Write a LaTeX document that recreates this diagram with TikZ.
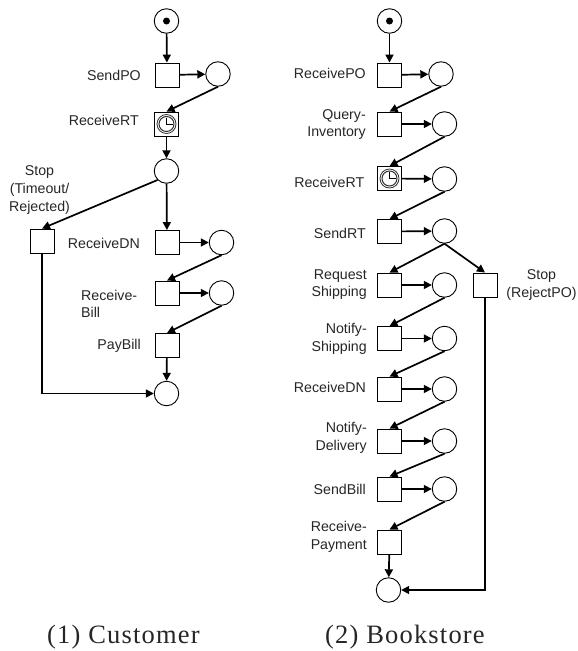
\documentclass[tikz,border=0pt]{standalone}
\usepackage{fontspec}
\setmainfont{Liberation Sans}
\newfontfamily\capfont[LetterSpace=4.5]{Liberation Serif}
\usetikzlibrary{arrows.meta}
\tikzset{
 place/.style={draw,circle,minimum size=24.5pt,inner sep=0pt,line width=0.9pt,fill=white},
 trans/.style={draw,rectangle,minimum size=24pt,inner sep=0pt,line width=0.9pt,fill=white},
 arc/.style={-{Triangle[length=8pt,width=8pt]},line width=1.7pt,draw=black},
 lbl/.style={font=\fontsize{14.2}{17.6}\selectfont,inner sep=0pt,text=black!85,align=right,anchor=east},
 lbll/.style={lbl,align=left,anchor=west},
 lblc/.style={lbl,align=center,anchor=center},
 captext/.style={font=\capfont\fontsize{26.5}{30}\selectfont,inner sep=0pt,text=black!85},
 token/.style={fill=black,circle,minimum size=7pt,inner sep=0pt},
}
\newcommand{\clockat}[1]{%
 \draw[line width=0.8pt,black!80] (#1) circle (9.5pt);
 \draw[line width=1pt,black!80] (#1) circle (7.5pt);
 \draw[line width=0.8pt,black] ([yshift=6.5pt]#1) -- (#1) -- ([xshift=6.5pt]#1);
}
\begin{document}
\begin{tikzpicture}[x=1pt,y=-1pt]
\useasboundingbox (0,0) rectangle (578,651);
% Customer
\node[place] (cs) at (166.5,21) {};
\node[token] (cst) at (166.5,21) {};
\node[trans] (c1) at (167,75) {};
\node[place] (c1p) at (218,74) {};
\node[trans] (c2) at (166.5,124) {};
\clockat{c2.center}
\node[place] (c2p) at (166.5,171) {};
\node[trans] (cstop) at (42,241) {};
\node[trans] (c3) at (167,242.5) {};
\node[place] (c3p) at (221.5,242.5) {};
\node[trans] (c4) at (167,293) {};
\node[place] (c4p) at (221.5,293) {};
\node[trans] (c5) at (167,345.5) {};
\node[place] (ce) at (166.5,393.5) {};
\draw[arc] (cs) -- (c1);
\draw[arc] (c1) -- (c1p);
\draw[arc] (c1p.south) -- (c2.north);
\draw[arc] (c2) -- (c2p);
\draw[arc] (c2p) -- (c3);
\draw[arc] (c2p.south west) -- (cstop.north);
\draw[arc] (c3) -- (c3p);
\draw[arc] (c3p.south) -- (c4.north);
\draw[arc] (c4) -- (c4p);
\draw[arc] (c4p.south) -- (c5.north);
\draw[arc] (c5) -- (ce);
\draw[arc] (cstop.south) |- (ce.west);
\node[lbl] (lc1) at (141,75) {SendPO};
\node[lbl] (lc2) at (139,120) {ReceiveRT};
\node[lblc] (lcs) at (39.5,190) {Stop\\(Timeout/\\Rejected)};
\node[lbl] (lc3) at (140,243) {ReceiveDN};
\node[lbll] (lc4) at (81,304) {Receive-\\Bill};
\node[lbl] (lc5) at (141,346) {PayBill};
% Bookstore
\node[place] (bs) at (389.5,21) {};
\node[token] (bst) at (389.5,21) {};
\node[trans] (b1) at (389.5,75) {};
\node[place] (b1p) at (441,74) {};
\node[trans] (b2) at (389.5,124) {};
\node[place] (b2p) at (444.5,124) {};
\node[trans] (b3) at (389.5,178.5) {};
\clockat{b3.center}
\node[place] (b3p) at (444.5,179) {};
\node[trans] (b4) at (389.5,231.5) {};
\node[place] (b4p) at (444.5,231) {};
\node[trans] (b5) at (389.5,285) {};
\node[place] (b5p) at (444.5,285) {};
\node[trans] (bstop) at (485,285) {};
\node[trans] (b6) at (389.5,338.5) {};
\node[place] (b6p) at (444.5,338.5) {};
\node[trans] (b7) at (389.5,389) {};
\node[place] (b7p) at (444.5,389) {};
\node[trans] (b8) at (389.5,441) {};
\node[place] (b8p) at (444.5,441) {};
\node[trans] (b9) at (389.5,489) {};
\node[place] (b9p) at (444.5,489) {};
\node[trans] (b10) at (389.5,542) {};
\node[place] (be) at (388.5,590) {};
\draw[arc] (bs) -- (b1);
\draw[arc] (b1) -- (b1p);
\draw[arc] (b1p.south) -- (b2.north);
\draw[arc] (b2) -- (b2p);
\draw[arc] (b2p.south) -- (b3.north);
\draw[arc] (b3) -- (b3p);
\draw[arc] (b3p.south) -- (b4.north);
\draw[arc] (b4) -- (b4p);
\draw[arc] (b4p.south) -- (b5.north);
\draw[arc] (b4p.south) -- (bstop.north);
\draw[arc] (b5) -- (b5p);
\draw[arc] (b5p.south) -- (b6.north);
\draw[arc] (b6) -- (b6p);
\draw[arc] (b6p.south) -- (b7.north);
\draw[arc] (b7) -- (b7p);
\draw[arc] (b7p.south) -- (b8.north);
\draw[arc] (b8) -- (b8p);
\draw[arc] (b8p.south) -- (b9.north);
\draw[arc] (b9) -- (b9p);
\draw[arc] (b9p.south) -- (b10.north);
\draw[arc] (b10) -- (be);
\draw[arc] (bstop.south) |- (be.east);
\node[lbl] (lb1) at (366,73) {ReceivePO};
\node[lbl] (lb2) at (366,124.5) {Query-\\Inventory};
\node[lbl] (lb3) at (364.5,182) {ReceiveRT};
\node[lbl] (lb4) at (366,233) {SendRT};
\node[lbl] (lb5) at (367,284.5) {Request\\Shipping};
\node[lblc] (lbs) at (541.5,285) {Stop\\(RejectPO)};
\node[lbl] (lb6) at (367,339) {Notify-\\Shipping};
\node[lbl] (lb7) at (366,387) {ReceiveDN};
\node[lbl] (lb8) at (367,438) {Notify-\\Delivery};
\node[lbl] (lb9) at (366,489) {SendBill};
\node[lbl] (lb10) at (367,537) {Receive-\\Payment};
\node[captext,anchor=west] (c1t) at (47,637) {(1) Customer};
\node[captext,anchor=west] (c2t) at (325,637) {(2) Bookstore};
\end{tikzpicture}
\end{document}
